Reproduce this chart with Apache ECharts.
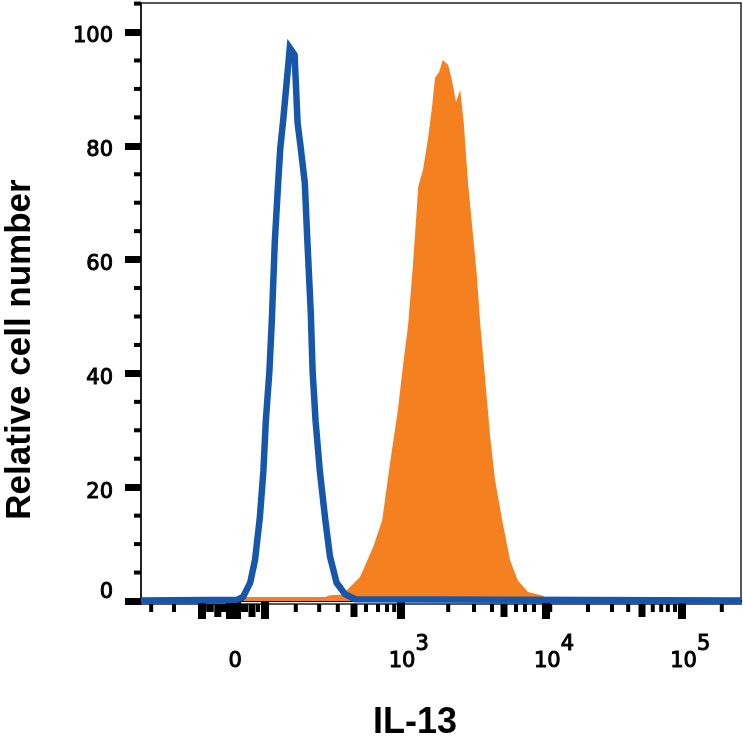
<!DOCTYPE html>
<html>
<head>
<meta charset="utf-8">
<style>
  html, body { margin: 0; padding: 0; background: #fff; }
  #chart { width: 743px; height: 745px; }
</style>
</head>
<body>
<div id="chart"></div>
<script src="https://cdn.jsdelivr.net/npm/echarts@6/dist/echarts.min.js"></script>
<script>
// x values are display channels (0-1000) on the biexponential IL-13 scale
var isotypeChannels = [0, 160, 170, 182, 190, 198, 204, 208, 214, 218, 223, 228, 232, 237, 248, 256, 261, 266, 273, 277, 283, 286, 291, 298, 307, 315, 326, 340, 357, 1000];
var isotypeCounts = [0.1, 0.2, 0.7, 3.2, 7.2, 14.6, 22.9, 31.6, 40.4, 49.2, 63.1, 72.4, 79.4, 84.5, 97.2, 96, 84, 79.8, 73.5, 63.9, 50.6, 40.4, 31.6, 22.9, 14.4, 7.8, 3.2, 1.2, 0.3, 0.1];

var il13Channels = [170, 175, 307, 315, 332, 343, 365, 387, 402, 415, 428, 437, 445, 453, 458, 462, 470, 478, 485, 490, 497, 503, 512, 518, 525, 532, 538, 545, 552, 560, 565, 573, 582, 590, 602, 615, 628, 645, 670, 678, 685];
var il13Counts = [0, 0.7, 0.7, 1, 1.1, 1.9, 4.2, 9.5, 14.2, 24.2, 33.5, 41.7, 48.3, 58.7, 66.4, 72.8, 75.8, 81, 86.8, 91.9, 93, 95.1, 94.2, 91.6, 87.7, 89.8, 84, 73.5, 65.8, 56.9, 49.2, 39.7, 28.8, 21.3, 14.2, 7.2, 3.6, 1.6, 0.9, 0.2, 0];

var xLabelChannels = [157, 433, 675, 902];
var xLabelTexts = ['0', '3', '4', '5'];
var xLongTicks = [102, 148, 160, 207, 433, 675, 902];
var xMediumTicks = [128, 185, 355, 605, 835];
var xShortTicks = [17, 55, 112, 118, 135, 140, 170, 175, 195, 258, 297, 328, 375, 395, 410, 422, 512, 555, 585, 625, 640, 655, 682, 745, 785, 812, 853, 867, 878, 890, 968];

var yMajorTicks = [0, 20, 40, 60, 80, 100];
var yMinorTicks = [5, 10, 15, 25, 30, 35, 45, 50, 55, 65, 70, 75, 85, 90, 95, 105];

var labelFont = 'DejaVu Sans';
var nameFont = 'Liberation Sans';
var blue = '#1657ab';
var orange = '#f58020';
var black = '#000';

function pairs(xs, ys) {
  return xs.map(function(x, i) { return [x, ys[i]]; });
}

// short ticks hanging under the x axis, drawn from the axis scale
function xTickRender(len, w) {
  return function(params, api) {
    var p = api.coord([api.value(0), -0.53]);
    return { type: 'rect', shape: { x: p[0] - w / 2, y: p[1], width: w, height: len }, style: { fill: black } };
  };
}

function yTickRender(params, api) {
  var p = api.coord([0, api.value(0)]);
  return { type: 'rect', shape: { x: p[0] - 7, y: p[1] - 2, width: 7, height: 4 }, style: { fill: black } };
}

var digit = { fontFamily: labelFont, fontSize: 21, color: black, textBorderColor: black, textBorderWidth: 1 };
function digitStyle(padding) {
  return Object.assign({}, digit, { padding: padding });
}

var chart = echarts.init(document.getElementById('chart'), null, { renderer: 'canvas' });
chart.setOption({
  animation: false,
  backgroundColor: '#fff',
  grid: { left: 141, right: 2, top: 3, bottom: 141, outerBoundsMode: 'none', show: true, borderColor: '#222', borderWidth: 1.5, backgroundColor: 'transparent' },
  xAxis: {
    type: 'value',
    min: 0,
    max: 1000,
    name: 'IL-13',
    nameLocation: 'middle',
    nameGap: 101,
    nameTextStyle: { fontFamily: nameFont, fontWeight: 'bold', fontSize: 36, color: black, padding: [0, 52, 0, 0] },
    axisLine: { lineStyle: { color: black, width: 2 } },
    axisTick: { customValues: xLongTicks, length: 18, lineStyle: { color: black, width: 8 } },
    axisLabel: {
      customValues: xLabelChannels,
      margin: 30,
      hideOverlap: false,
      formatter: function(v) {
        var t = xLabelTexts[xLabelChannels.indexOf(v)];
        return t === '0' ? '{z|0}' : '{b|10}{s|' + t + '}';
      },
      rich: {
        z: digitStyle([17, 0, 0, 0]),
        b: digitStyle([17, 0, 0, 16]),
        s: digitStyle([0, 0, 17, 0])
      }
    },
    splitLine: { show: false }
  },
  yAxis: {
    type: 'value',
    min: -0.53,
    max: 105.1,
    name: 'Relative cell number',
    nameLocation: 'middle',
    nameGap: 103,
    nameTextStyle: { fontFamily: nameFont, fontWeight: 'bold', fontSize: 35, color: black, padding: [0, 92, 0, 0] },
    axisLine: { lineStyle: { color: '#222', width: 2 } },
    axisTick: { customValues: yMajorTicks, length: 16, lineStyle: { color: black, width: 7 } },
    axisLabel: {
      customValues: yMajorTicks,
      margin: 28,
      hideOverlap: false,
      formatter: function(v) { return v === 0 ? '{z|0}' : '{n|' + v + '}'; },
      rich: {
        n: digitStyle([10, 0, 0, 0]),
        z: digitStyle([0, 0, 16, 0])
      }
    },
    splitLine: { show: false }
  },
  series: [
    {
      type: 'line',
      name: 'IL-13',
      data: pairs(il13Channels, il13Counts),
      symbol: 'none',
      lineStyle: { width: 0 },
      itemStyle: { color: orange },
      areaStyle: { color: orange, opacity: 1 },
      z: 2
    },
    {
      type: 'line',
      name: 'Isotype',
      data: pairs(isotypeChannels, isotypeCounts),
      symbol: 'none',
      lineStyle: { color: blue, width: 6.5, join: 'miter' },
      itemStyle: { color: blue },
      z: 3
    },
    { type: 'custom', data: xMediumTicks.map(function(v) { return [v]; }), renderItem: xTickRender(13, 7), silent: true, z: 1, clip: false },
    { type: 'custom', data: xShortTicks.map(function(v) { return [v]; }), renderItem: xTickRender(8, 4), silent: true, z: 1, clip: false },
    { type: 'custom', data: yMinorTicks.map(function(v) { return [v]; }), renderItem: yTickRender, encode: { x: 0, y: 0 }, silent: true, z: 1, clip: false }
  ]
});
window.addEventListener('resize', function() { chart.resize(); });
</script>
</body>
</html>
